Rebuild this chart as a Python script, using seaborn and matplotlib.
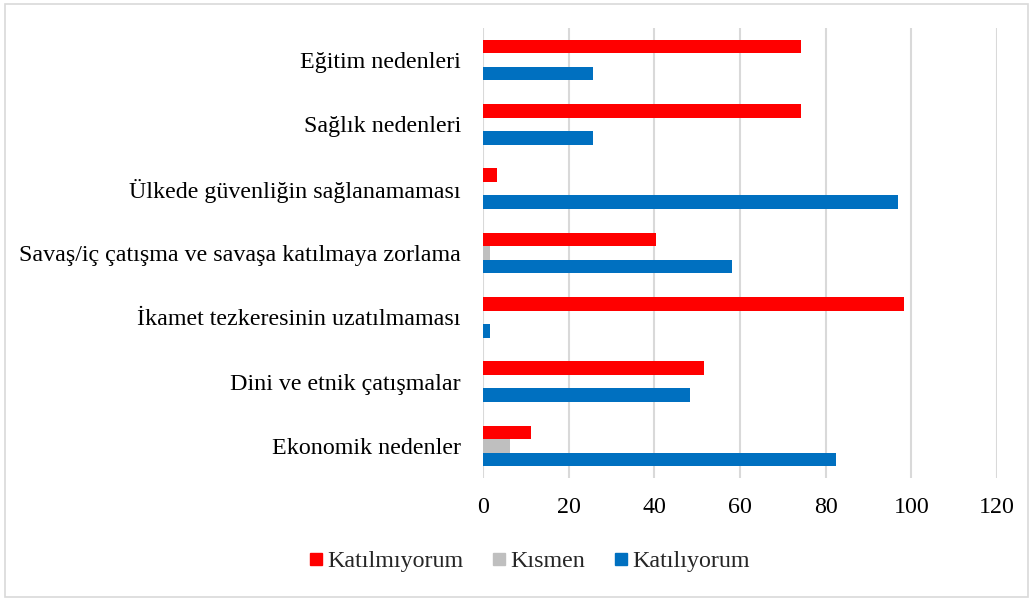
import seaborn as sns
import pandas as pd
import matplotlib.pyplot as plt
from matplotlib.patches import Rectangle
from matplotlib.lines import Line2D

categories = ["Eğitim nedenleri", "Sağlık nedenleri", "Ülkede güvenliğin sağlanamaması",
              "Savaş/iç çatışma ve savaşa katılmaya zorlama", "İkamet tezkeresinin uzatılmaması",
              "Dini ve etnik çatışmalar", "Ekonomik nedenler"]
katilmiyorum = [74.3, 74.3, 3.3, 40.4, 98.4, 51.6, 11.3]
kismen = [0, 0, 0, 1.6, 0, 0, 6.4]
katiliyorum = [25.7, 25.7, 96.9, 58.2, 1.6, 48.4, 82.3]
series = ["Katılmıyorum", "Kısmen", "Katılıyorum"]
colors = ["#FF0000", "#BFBFBF", "#0070C0"]

rows = []
for name, vals in zip(series, [katilmiyorum, kismen, katiliyorum]):
  for c, v in zip(categories, vals):
    rows.append({"neden": c, "seri": name, "deger": v})
df = pd.DataFrame(rows)

sns.set_style("white")
plt.rcParams['font.family'] = ['Liberation Serif', 'DejaVu Serif']

fig = plt.figure(figsize=(10.33, 6.01), dpi=100)
ax = fig.add_axes([483/1033, 1-478/601, (997-483)/1033, (478-28)/601])

sns.barplot(data=df, y="neden", x="deger", hue="seri", order=categories, hue_order=series,
            palette=colors, width=0.63, orient="h", ax=ax, linewidth=0, saturation=1, legend=False)

ax.set_xlim(0, 120)
ax.set_xticks(range(0, 121, 20))
ax.xaxis.grid(True, color="#d9d9d9", linewidth=1.5)
ax.set_axisbelow(True)
for s in ax.spines.values():
  s.set_visible(False)
ax.tick_params(axis="both", length=0, labelsize=17.3, colors="black")
ax.tick_params(axis="x", pad=14)
ax.tick_params(axis="y", pad=16)
ax.set_xlabel("")
ax.set_ylabel("")

handles = [Line2D([0], [0], marker="s", linestyle="none", markersize=9,
                  markerfacecolor=c, markeredgecolor=c) for c in colors]
fig.legend(handles, series, loc="center", bbox_to_anchor=(528/1033, 1-561/601), ncol=3,
           frameon=False, fontsize=17.3, handletextpad=0.05, columnspacing=1.1, handlelength=0.8)

fig.patches.append(Rectangle((5/1033, 4/601), 1023/1033, 593/601, transform=fig.transFigure,
                             fill=False, edgecolor="#d9d9d9", linewidth=1.2))

fig.savefig("out.png", dpi=100)
